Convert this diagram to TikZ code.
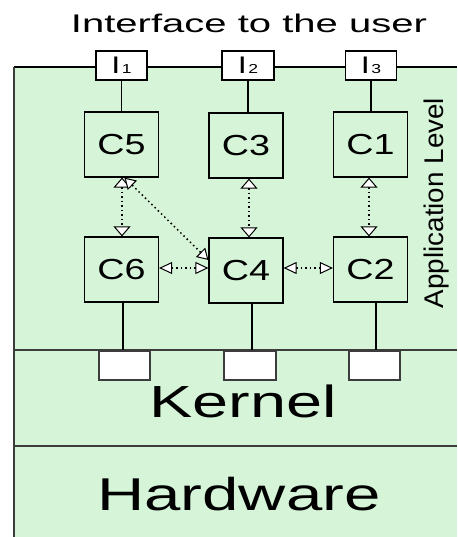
\documentclass[tikz,border=0pt]{standalone}
\usepackage{fontspec}
\setmainfont{Liberation Sans}
\usepackage{graphicx}
\usetikzlibrary{arrows.meta}
\definecolor{appgreen}{RGB}{214,245,216}
\definecolor{edgegray}{RGB}{60,60,60}
\begin{document}
\begin{tikzpicture}[x=1pt,y=-1pt,
  comp/.style={draw=black, line width=1.2pt, minimum width=74pt, minimum height=65pt, inner sep=0pt,
    font=\fontsize{29}{29}\selectfont},
  iface/.style={draw=black, fill=white, line width=1.2pt, minimum width=51pt, minimum height=29pt, inner sep=0pt},
  port/.style={draw=edgegray, fill=white, line width=1.2pt, minimum width=51pt, minimum height=29pt, inner sep=0pt},
  link/.style={line width=1.4pt},
  vdep/.style={line width=1.5pt, dash pattern=on 1.5pt off 3pt,
    {Triangle[fill=white,length=10pt,width=17pt,line width=1pt]}-{Triangle[fill=white,length=10pt,width=17pt,line width=1pt]}},
  hdep/.style={line width=1.5pt, dash pattern=on 1.5pt off 3pt,
    {Triangle[fill=white,length=13pt,width=12pt,line width=1pt]}-{Triangle[fill=white,length=13pt,width=12pt,line width=1pt]}},
  ddep/.style={line width=1.5pt, dash pattern=on 1.5pt off 3pt,
    {Triangle[fill=white,length=11pt,width=13pt,line width=1pt]}-{Triangle[fill=white,length=11pt,width=13pt,line width=1pt]}},
  lbl/.style={inner sep=0pt, anchor=base}
]
\useasboundingbox (0,0) rectangle (457,537);
% layers background
\fill[appgreen] (14,67) rectangle (457,537);
\draw[line width=1.3pt, black] (14,67) -- (457,67);
\draw[line width=2pt, edgegray] (14,350) -- (457,350);
\draw[line width=1.6pt, edgegray] (14,446) -- (457,446);
\draw[line width=2pt, edgegray] (14,67) -- (14,537);

% title
\node[lbl] (title) at (249,33) {\fontsize{25.5}{25.5}\selectfont\scalebox{1.57}[1]{Interface to the user}};

% interfaces
\node[iface] (I1) at (121.5,65.5) {\scalebox{1.35}[1]{\fontsize{24}{24}\selectfont I\kern1pt\fontsize{13}{13}\selectfont 1}};
\node[iface, minimum width=52pt] (I2) at (248,65.5) {\scalebox{1.35}[1]{\fontsize{24}{24}\selectfont I\kern1pt\fontsize{13}{13}\selectfont 2}};
\node[iface] (I3) at (371,65.5) {\scalebox{1.35}[1]{\fontsize{24}{24}\selectfont I\kern1pt\fontsize{13}{13}\selectfont 3}};

% components
\node[comp] (C5) at (121.5,144.5) {\scalebox{1.3}[1]{C5}};
\node[comp] (C3) at (246,145.5) {\scalebox{1.3}[1]{C3}};
\node[comp] (C1) at (370.5,144.5) {\scalebox{1.3}[1]{C1}};
\node[comp] (C6) at (121.5,269.5) {\scalebox{1.3}[1]{C6}};
\node[comp] (C4) at (246,270.5) {\scalebox{1.3}[1]{C4}};
\node[comp] (C2) at (370.5,269.5) {\scalebox{1.3}[1]{C2}};

% kernel ports
\node[port] (P1) at (124.5,365.5) {};
\node[port, minimum width=52pt] (P2) at (250,365.5) {};
\node[port] (P3) at (374.5,365.5) {};

% solid links
\draw[link] (I1.south) -- (I1.south |- C5.north);
\draw[link] (I2.south) -- (I2.south |- C3.north);
\draw[link] (I3.south) -- (I3.south |- C1.north);
\draw[link] ([xshift=1.5pt]C6.south) -- ([xshift=1.5pt]C6.south |- P1.north);
\draw[link] ([xshift=2pt]P2.north) -- ([xshift=2pt]P2.north |- C4.south);
\draw[link] ([xshift=1.5pt]P3.north) -- ([xshift=1.5pt]P3.north |- C2.south);

% dependencies
\draw[vdep] ([xshift=0.5pt]C5.south) -- ([xshift=0.5pt]C6.north);
\draw[vdep] ([xshift=3pt]C3.south) -- ([xshift=3pt]C4.north);
\draw[vdep] ([xshift=-1.5pt]C1.south) -- ([xshift=-1.5pt]C2.north);
\draw[hdep] ([yshift=1.5pt]C6.east) -- ([yshift=2.5pt]C4.west);
\draw[hdep] ([yshift=2.5pt]C4.east) -- ([yshift=1.5pt]C2.west);
\draw[ddep] ([xshift=3pt]C5.south) -- ([yshift=10.5pt]C4.west);

% layer labels
\node[lbl, rotate=90] (app) at (443,203) {\fontsize{27}{27}\selectfont\scalebox{1.03}[1]{Application Level}};
\node[lbl] (kernel) at (243,417) {\fontsize{45}{45}\selectfont\scalebox{1.44}[1]{Kernel}};
\node[lbl] (hw) at (239,510) {\fontsize{46}{46}\selectfont\scalebox{1.42}[1]{Hardware}};
\end{tikzpicture}
\end{document}
